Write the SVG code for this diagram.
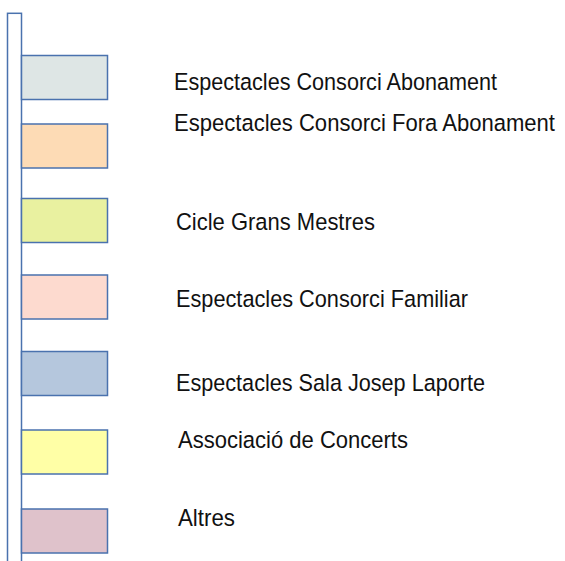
<svg xmlns="http://www.w3.org/2000/svg" width="565" height="561" viewBox="0 0 565 561">
<style>
.sw{stroke:#4A72AE;stroke-width:1.5}
.lbl{font-family:"Liberation Sans Narrow","Liberation Sans",Arial,sans-serif;font-size:24.5px;fill:#111}
</style>
<rect width="565" height="561" fill="#fff"/>
<g id="axis"><rect class="sw" x="7.5" y="13.3" width="14" height="560" fill="#fff"/></g>
<g id="item1"><rect class="sw" x="21.5" y="55.5" width="86" height="44" fill="#DEE6E5"/><text class="lbl" x="174" y="90" textLength="323" lengthAdjust="spacingAndGlyphs">Espectacles Consorci Abonament</text></g>
<g id="item2"><rect class="sw" x="21.5" y="124" width="86" height="44" fill="#FDDBB5"/><text class="lbl" x="174" y="130.5" textLength="381" lengthAdjust="spacingAndGlyphs">Espectacles Consorci Fora Abonament</text></g>
<g id="item3"><rect class="sw" x="21.5" y="198.5" width="86" height="44" fill="#E9F1A0"/><text class="lbl" x="176" y="230" textLength="199" lengthAdjust="spacingAndGlyphs">Cicle Grans Mestres</text></g>
<g id="item4"><rect class="sw" x="21.5" y="275" width="86" height="44" fill="#FDDACF"/><text class="lbl" x="176" y="306.5" textLength="292" lengthAdjust="spacingAndGlyphs">Espectacles Consorci Familiar</text></g>
<g id="item5"><rect class="sw" x="21.5" y="351.5" width="86" height="44" fill="#B5C7DD"/><text class="lbl" x="176" y="391" textLength="309" lengthAdjust="spacingAndGlyphs">Espectacles Sala Josep Laporte</text></g>
<g id="item6"><rect class="sw" x="21.5" y="430" width="86" height="44" fill="#FFFFA6"/><text class="lbl" x="178" y="448" textLength="230" lengthAdjust="spacingAndGlyphs">Associació de Concerts</text></g>
<g id="item7"><rect class="sw" x="21.5" y="509" width="86" height="44" fill="#DFC2CB"/><text class="lbl" x="178" y="526" textLength="57" lengthAdjust="spacingAndGlyphs">Altres</text></g>
</svg>
